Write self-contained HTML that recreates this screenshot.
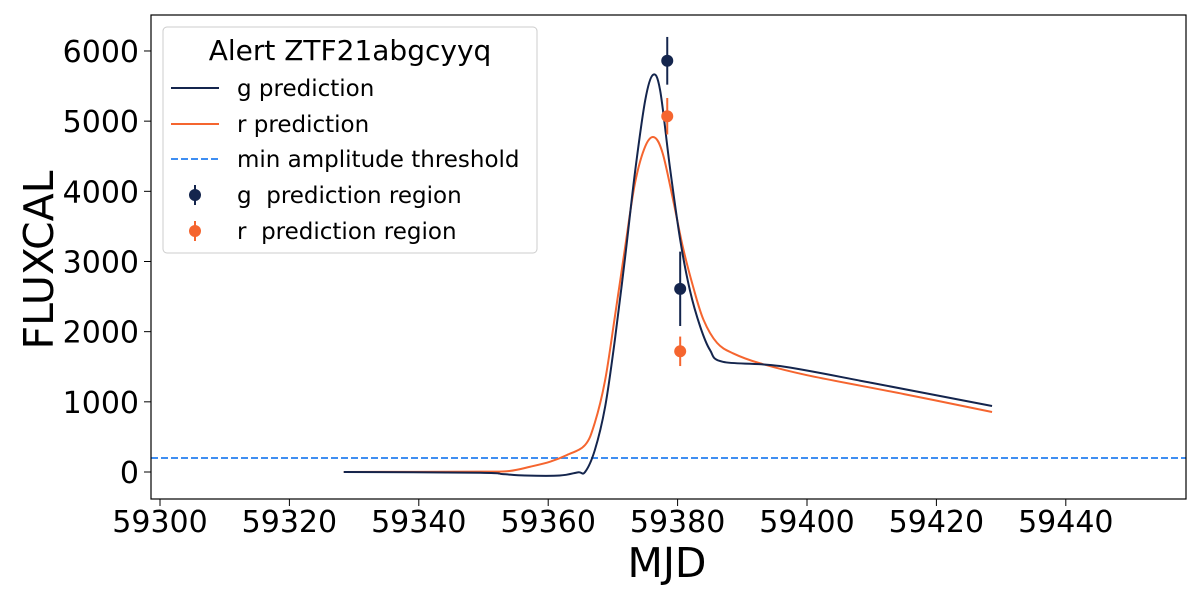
<!DOCTYPE html>
<html><head><meta charset="utf-8"><style>
body{margin:0;background:#fff}
svg text{font-family:"DejaVu Sans","Liberation Sans",sans-serif}
</style></head><body>
<svg id="chart" width="1200" height="600" xmlns="http://www.w3.org/2000/svg">
<rect x="0" y="0" width="1200" height="600" fill="#fff"/>
<g id="plot"></g>
<rect x="151" y="15" width="1035" height="484" fill="none" stroke="#000" stroke-width="1.2"/>
<g id="xticks"></g><g id="yticks"></g>
<text x="667" y="577" font-size="41" text-anchor="middle">MJD</text>
<text transform="translate(53,260) rotate(-90)" font-size="41" text-anchor="middle">FLUXCAL</text>
<g>
<rect x="163" y="27" width="374" height="226" rx="4" fill="#fff" fill-opacity="0.8" stroke="#ccc"/>
<text x="350" y="60" font-size="28" text-anchor="middle">Alert ZTF21abgcyyq</text>
<line x1="171" y1="88" x2="219" y2="88" stroke="#14254d" stroke-width="2"/>
<text x="237" y="96" font-size="23">g prediction</text>
<line x1="171" y1="124" x2="219" y2="124" stroke="#f5652f" stroke-width="2"/>
<text x="237" y="132" font-size="23">r prediction</text>
<line x1="171" y1="159" x2="219" y2="159" stroke="#3f8ef2" stroke-width="2" stroke-dasharray="7,3"/>
<text x="237" y="167" font-size="23">min amplitude threshold</text>
<line x1="195" y1="185" x2="195" y2="205" stroke="#14254d" stroke-width="2"/><circle cx="195" cy="195" r="6" fill="#14254d"/>
<text x="237" y="203" font-size="23" xml:space="preserve">g  prediction region</text>
<line x1="195" y1="221" x2="195" y2="241" stroke="#f5652f" stroke-width="2"/><circle cx="195" cy="231" r="6" fill="#f5652f"/>
<text x="237" y="239" font-size="23" xml:space="preserve">r  prediction region</text>
</g>
</svg>
<script>
const gMjd=[59328.4,59349.5,59353,59356.4,59361.8,59364.6,59365.7,59367.2,59368.8,59370.3,59371.9,59373.4,59375.0,59376.2,59377.3,59378.8,59380.4,59381.9,59383.5,59385.0,59387.0,59395.8,59410,59428.6];
const gFlux=[0,-10,-30,-50,-50,-5,0,310,930,1880,3070,4260,5300,5660,5440,4350,3310,2590,2070,1740,1570,1510,1270,940];
const rMjd=[59328.4,59349.5,59354,59357.2,59360.3,59362.9,59365.7,59367.2,59368.8,59370.3,59371.9,59373.4,59375.0,59376.4,59377.7,59379.3,59380.8,59382.4,59384.0,59386.1,59388.6,59392.7,59400,59415,59428.6];
const rFlux=[0,5,15,75,147,242,385,700,1310,2210,3210,4110,4640,4770,4540,3880,3210,2640,2170,1840,1690,1550,1380,1110,855];
const ptMjd=[59378.4,59380.4];
const gPt=[5860,2610], gErr=[340,530];
const rPt=[5070,1720], rErr=[260,210];
const threshold=200;
const xTicks=[59300,59320,59340,59360,59380,59400,59420,59440];
const yTicks=[0,1000,2000,3000,4000,5000,6000];
const X=v=>160+(v-59300)*6.47;
const Y=v=>472-v*0.07017;
const NS="http://www.w3.org/2000/svg";
const plot=document.getElementById('plot');
function mk(t,a,p){const e=document.createElementNS(NS,t);for(const k in a)e.setAttribute(k,a[k]);(p||plot).appendChild(e);return e;}
let l=mk('line',{x1:151,x2:1186,y1:Y(threshold),y2:Y(threshold),stroke:'#3f8ef2','stroke-width':2,'stroke-dasharray':'7,3'});


function spline(P){let d='M'+P[0][0]+','+P[0][1];
for(let i=0;i<P.length-1;i++){const p0=P[Math.max(0,i-1)],p1=P[i],p2=P[i+1],p3=P[Math.min(P.length-1,i+2)];
const c1=[p1[0]+(p2[0]-p0[0])/6,p1[1]+(p2[1]-p0[1])/6],c2=[p2[0]-(p3[0]-p1[0])/6,p2[1]-(p3[1]-p1[1])/6];
d+=' C'+c1+' '+c2+' '+p2;}return d;}
function curve(xs,ys,c,n){const p=mk('path',{d:spline(xs.map((x,i)=>[X(x),Y(ys[i])])),fill:'none',stroke:c,'stroke-width':2,'stroke-linejoin':'round'});

}
curve(rMjd,rFlux,'#f5652f','r-prediction-line');
curve(gMjd,gFlux,'#14254d','g-prediction-line');
function pts(v,e,c,n){v.forEach((f,i)=>{const g=mk('g',{});


mk('line',{x1:X(ptMjd[i]),x2:X(ptMjd[i]),y1:Y(f-e[i]),y2:Y(f+e[i]),stroke:c,'stroke-width':2},g);
mk('circle',{cx:X(ptMjd[i]),cy:Y(f),r:6,fill:c},g);});}
pts(gPt,gErr,'#14254d','g-region-point');
pts(rPt,rErr,'#f5652f','r-region-point');
const xt=document.getElementById('xticks');
xTicks.forEach(t=>{mk('line',{x1:X(t),x2:X(t),y1:499,y2:506,stroke:'#000'},xt);
const tx=mk('text',{x:X(t),y:532,'font-size':30,'text-anchor':'middle'},xt);tx.textContent=t;

});
const yt=document.getElementById('yticks');
yTicks.forEach(t=>{mk('line',{x1:144,x2:151,y1:Y(t),y2:Y(t),stroke:'#000'},yt);
const tx=mk('text',{x:139,y:Y(t)+11,'font-size':30,'text-anchor':'end'},yt);tx.textContent=t;

});
</script>
</body></html>
